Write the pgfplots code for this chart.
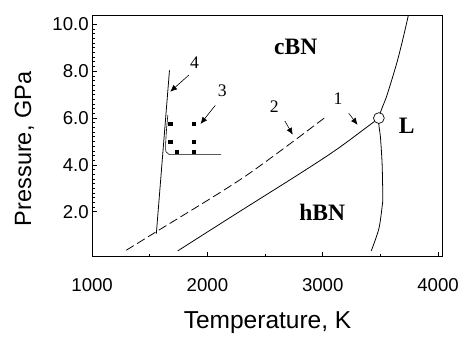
\documentclass[border=0pt]{standalone}
\usepackage{fontspec}
\setmainfont{Liberation Sans}
\newfontfamily\serifo{Liberation Serif}
\usepackage{pgfplots}
\pgfplotsset{compat=1.18}
\usetikzlibrary{arrows.meta}
\begin{document}
\begin{tikzpicture}
\begin{axis}[
  scale only axis, width=358pt, height=246pt,
  xmin=1000, xmax=4043, ymin=0.08, ymax=10.37,
  xtick={1000,2000,3000,4000}, minor x tick num=1,
  ytick={2,4,6,8,10}, minor y tick num=9,
  xtick pos=bottom, ytick pos=left, tick align=inside,
  major tick length=5pt, minor tick length=3pt,
  axis line style={line width=1pt}, tick style={line width=0.7pt, black},
  /pgf/number format/assume math mode=true,
  xticklabel style={/pgf/number format/1000 sep={}, yshift=-19pt},
  yticklabel style={/pgf/number format/.cd, fixed, fixed zerofill, precision=1},
  tick label style={font=\fontsize{19}{22}\selectfont},
  xlabel={Temperature, K}, ylabel={Pressure, GPa},
  every axis x label/.style={at={(axis description cs:0.5,0)}, anchor=north, yshift=-52pt, font=\fontsize{25}{28}\selectfont},
  every axis y label/.style={at={(axis description cs:0,0.5)}, rotate=90, anchor=center, xshift=-13pt, yshift=69pt, font=\fontsize{24}{28}\selectfont},
  clip=true,
]
% curve 1 (solid)
\addplot[black, line width=0.8pt, smooth] coordinates {(1742,0.33) (2266,1.97) (2792,3.6) (3132,4.7) (3487,6.0)};
% curve 2 (dashed)
\addplot[black, line width=0.8pt, dash pattern=on 9pt off 4pt, smooth] coordinates {(1296,0.36) (1557,1.15) (2323,3.5) (3032,6.07)};
% curve 4
\addplot[black, line width=0.8pt] coordinates {(1557,1.07) (1671,8.04)};
% curve 3
\addplot[black, line width=0.6pt, smooth, tension=0.4] coordinates {(1657,6.14) (1645,5.5) (1637,4.8) (1641,4.56) (1662,4.47) (1700,4.45) (2119,4.45)};
% melting curve
\addplot[black, line width=0.8pt, smooth] coordinates {(3421,0.33) (3487,1.28) (3517,2.3) (3521,2.67) (3515,4.05) (3501,5.17) (3487,6.0) (3557,6.97) (3643,8.36) (3700,9.47) (3742,10.37)};
% squares
\addplot[only marks, mark=square*, mark size=1.6pt, black] coordinates {(1677,5.76) (1883,5.76) (1677,4.99) (1883,4.99) (1734,4.58) (1883,4.58)};
% point L
\addplot[only marks, mark=*, mark size=5.5pt, mark options={fill=white, draw=black, line width=0.7pt}] coordinates {(3487,6.0)};
% arrows
\draw[-{Latex[length=7pt,width=6pt]}, line width=0.6pt] (axis cs:1838,7.83) -- (axis cs:1677,7.125);
\draw[-{Latex[length=7pt,width=6pt]}, line width=0.6pt] (axis cs:2068,6.54) -- (axis cs:1940,5.75);
\draw[-{Latex[length=7pt,width=6pt]}, line width=0.6pt] (axis cs:2672,5.875) -- (axis cs:2740,5.29);
\draw[-{Latex[length=7pt,width=6pt]}, line width=0.6pt] (axis cs:3225,6.21) -- (axis cs:3302,5.71);
% labels
\node[font=\serifo\fontsize{18}{20}\selectfont] at (axis cs:1889,8.38) {4};
\node[font=\serifo\fontsize{18}{20}\selectfont] at (axis cs:2128,7.17) {3};
\node[font=\serifo\fontsize{18}{20}\selectfont] at (axis cs:2579,6.5) {2};
\node[font=\serifo\fontsize{18}{20}\selectfont] at (axis cs:3132,6.83) {1};
\node[font=\serifo\bfseries\fontsize{24}{26}\selectfont] at (axis cs:2766,9.04) {cBN};
\node[font=\serifo\bfseries\fontsize{24}{26}\selectfont] at (axis cs:2996,1.96) {hBN};
\node[font=\serifo\bfseries\fontsize{24}{26}\selectfont] at (axis cs:3728,5.67) {L};
\end{axis}
\path ([xshift=-94pt,yshift=-71pt]current axis.south west) rectangle ([xshift=10pt,yshift=16pt]current axis.north east);
\end{tikzpicture}
\end{document}
